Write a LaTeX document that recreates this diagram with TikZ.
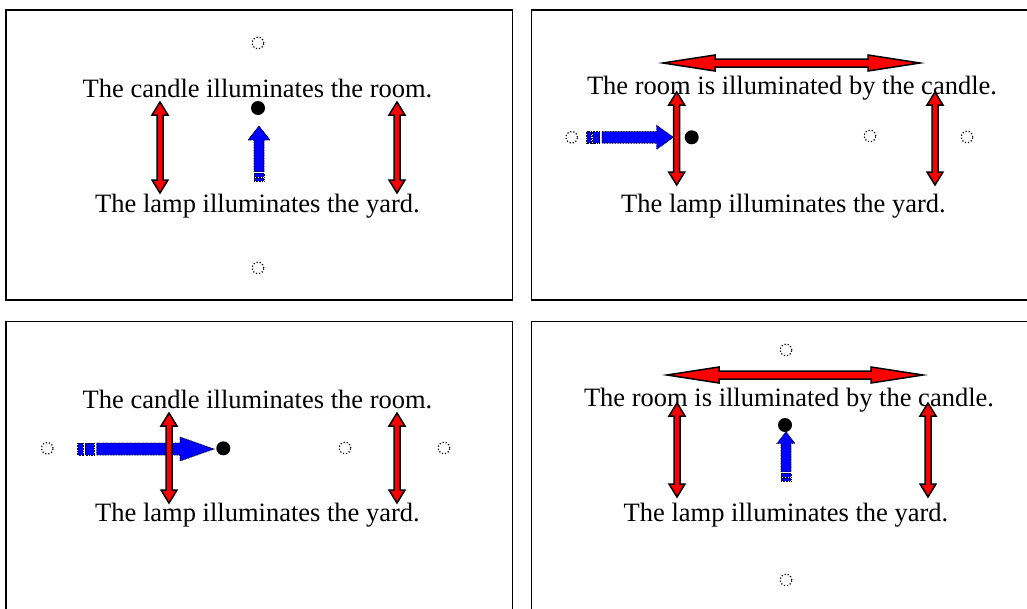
\documentclass[tikz,border=0pt]{standalone}
\usepackage{fontspec}
\setmainfont{Liberation Serif}
\usepackage{tikz}
\usetikzlibrary{calc}

\tikzset{
  panel/.style = {draw, line width=1.5pt},
  lbl/.style = {font=\fontsize{26.5}{30}\selectfont, anchor=base, inner sep=0pt},
  ghost/.style = {circle, draw, line width=1.2pt, dash pattern=on 1.2pt off 1.9pt, minimum size=11.5pt, inner sep=0pt},
  blackdot/.style = {circle, fill, minimum size=14pt, inner sep=0pt},
  redblock/.style = {fill=red, draw=black, line width=1.5pt, line join=miter},
  blueblock/.style = {fill=blue, draw=black, line width=0.8pt, dash pattern=on 0.8pt off 0.8pt},
}

% double block arrow: centre, angle, half length, head length, head half width, shaft half width
\newcommand{\twoway}[6]{
  \begin{scope}[shift={#1}, rotate=#2]
    \draw[redblock] (-#3,0) -- (-#3+#4,#5) -- (-#3+#4,#6) -- (#3-#4,#6) -- (#3-#4,#5) -- (#3,0)
      -- (#3-#4,-#5) -- (#3-#4,-#6) -- (-#3+#4,-#6) -- (-#3+#4,-#5) -- cycle;
  \end{scope}
}

% striped block arrow: tail, angle, length, shaft half width, head half width, head length, stripe unit
\newcommand{\stripearrow}[7]{
  \begin{scope}[shift={#1}, rotate=#2]
    \draw[blueblock] (0,-#4) rectangle (#7,#4);
    \draw[blueblock] (1.3*#7,-#4) rectangle (2.9*#7,#4);
    \draw[blueblock] (3.4*#7,-#4) -- (#3-#6,-#4) -- (#3-#6,-#5) -- (#3,0) -- (#3-#6,#5)
      -- (#3-#6,#4) -- (3.4*#7,#4) -- cycle;
  \end{scope}
}

\begin{document}
\begin{tikzpicture}[x=1pt, y=-1pt]
  \useasboundingbox (0,0) rectangle (1027,608);
  \clip (0,0) rectangle (1027,608);

  % panels
  \draw[panel] (6,10) rectangle (512.5,300);
  \draw[panel] (531.5,10) rectangle (1040,300);
  \draw[panel] (6,321.5) rectangle (512.5,620);
  \draw[panel] (531.5,321.5) rectangle (1040,620);

  % top left
  \node[ghost] (tlup) at (258,43) {};
  \node[lbl] (tlone) at (257.5,97) {The candle illuminates the room.};
  \node[blackdot] (tldot) at (258,108) {};
  \stripearrow{(259,181)}{90}{55}{5}{11}{14}{2.7}
  \twoway{(160,147.5)}{90}{45.5}{13}{8}{3}
  \twoway{(397,147.5)}{90}{45.5}{13}{8}{3}
  \node[lbl] (tltwo) at (257.5,212) {The lamp illuminates the yard.};
  \node[ghost] (tldown) at (258,268) {};

  % top right
  \twoway{(791.5,63)}{0}{128.5}{52}{8}{4}
  \node[lbl] (trone) at (792,94) {The room is illuminated by the candle.};
  \node[ghost] (trleft) at (571.7,137.3) {};
  \stripearrow{(586.7,137.3)}{0}{86.6}{5.8}{12}{16.6}{4.5}
  \twoway{(676.7,138.5)}{90}{46.5}{13}{8}{3}
  \node[blackdot] (trdot) at (691.7,137.3) {};
  \node[ghost] (trmid) at (870,136) {};
  \twoway{(935,138.5)}{90}{46.5}{13}{8}{3}
  \node[ghost] (trright) at (967,137) {};
  \node[lbl] (trtwo) at (783.5,212) {The lamp illuminates the yard.};

  % bottom left
  \node[lbl] (blone) at (257.5,408) {The candle illuminates the room.};
  \node[ghost] (blleft) at (47.3,448.3) {};
  \stripearrow{(77.7,449)}{0}{136.3}{6}{12}{34}{5.6}
  \twoway{(169,458)}{90}{45}{13}{8}{3}
  \node[blackdot] (bldot) at (223.3,448.3) {};
  \node[ghost] (blmid) at (345,448) {};
  \twoway{(397,458)}{90}{45}{13}{8}{3}
  \node[ghost] (blright) at (444,448) {};
  \node[lbl] (bltwo) at (257.5,521) {The lamp illuminates the yard.};

  % bottom right
  \node[ghost] (brup) at (786,350) {};
  \twoway{(795,375)}{0}{128}{52}{8}{4}
  \node[lbl] (brone) at (789,406) {The room is illuminated by the candle.};
  \node[blackdot] (brdot) at (785,425) {};
  \stripearrow{(786,481)}{90}{49.3}{5}{9}{11.7}{2.7}
  \twoway{(677,450)}{90}{47}{13}{8}{3}
  \twoway{(928,450)}{90}{47}{13}{8}{3}
  \node[lbl] (brtwo) at (786,521) {The lamp illuminates the yard.};
  \node[ghost] (brdown) at (786,580) {};
\end{tikzpicture}
\end{document}
